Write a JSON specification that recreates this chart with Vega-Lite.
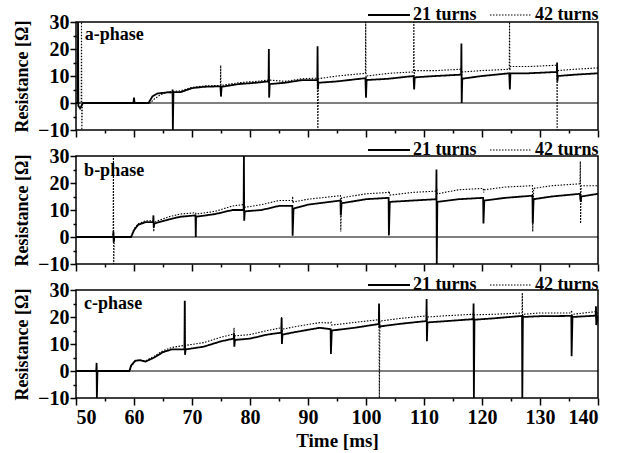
{
"$schema":"https://vega.github.io/schema/vega-lite/v6.json",
"padding":{"left":12,"top":5,"right":5,"bottom":5},
"background":"white",
"datasets":{"curves":[
{"p":"a","s":"21 turns","t":50,"r":0},{"p":"a","s":"21 turns","t":50.3,"r":0},{"p":"a","s":"21 turns","t":50.35,"r":30},{"p":"a","s":"21 turns","t":50.4,"r":-1},{"p":"a","s":"21 turns","t":50.7,"r":-2},{"p":"a","s":"21 turns","t":51.2,"r":0},{"p":"a","s":"21 turns","t":59.9,"r":0},{"p":"a","s":"21 turns","t":60,"r":2},{"p":"a","s":"21 turns","t":60.1,"r":0},{"p":"a","s":"21 turns","t":62.5,"r":0},{"p":"a","s":"21 turns","t":63.2,"r":2.5},{"p":"a","s":"21 turns","t":64,"r":3.5},{"p":"a","s":"21 turns","t":66,"r":4},{"p":"a","s":"21 turns","t":66.6,"r":3.8},{"p":"a","s":"21 turns","t":66.65,"r":5},{"p":"a","s":"21 turns","t":66.7,"r":-10},{"p":"a","s":"21 turns","t":66.8,"r":4},{"p":"a","s":"21 turns","t":68,"r":4},{"p":"a","s":"21 turns","t":70,"r":5.5},{"p":"a","s":"21 turns","t":72,"r":6},{"p":"a","s":"21 turns","t":74.9,"r":6.2},{"p":"a","s":"21 turns","t":75,"r":2.6},{"p":"a","s":"21 turns","t":75.1,"r":6},{"p":"a","s":"21 turns","t":78,"r":7},{"p":"a","s":"21 turns","t":81,"r":7.5},{"p":"a","s":"21 turns","t":83.2,"r":8},{"p":"a","s":"21 turns","t":83.25,"r":20},{"p":"a","s":"21 turns","t":83.3,"r":2},{"p":"a","s":"21 turns","t":83.4,"r":7},{"p":"a","s":"21 turns","t":86,"r":7.5},{"p":"a","s":"21 turns","t":89,"r":8.5},{"p":"a","s":"21 turns","t":91.6,"r":8.5},{"p":"a","s":"21 turns","t":91.65,"r":21},{"p":"a","s":"21 turns","t":91.7,"r":5},{"p":"a","s":"21 turns","t":91.8,"r":7.5},{"p":"a","s":"21 turns","t":95,"r":8},{"p":"a","s":"21 turns","t":99.9,"r":9.2},{"p":"a","s":"21 turns","t":100,"r":2},{"p":"a","s":"21 turns","t":100.1,"r":8.5},{"p":"a","s":"21 turns","t":104,"r":9},{"p":"a","s":"21 turns","t":108.2,"r":10},{"p":"a","s":"21 turns","t":108.3,"r":5},{"p":"a","s":"21 turns","t":108.4,"r":9.5},{"p":"a","s":"21 turns","t":112,"r":10},{"p":"a","s":"21 turns","t":116.4,"r":10.5},{"p":"a","s":"21 turns","t":116.45,"r":22},{"p":"a","s":"21 turns","t":116.5,"r":0},{"p":"a","s":"21 turns","t":116.6,"r":9},{"p":"a","s":"21 turns","t":120,"r":10},{"p":"a","s":"21 turns","t":124.7,"r":11},{"p":"a","s":"21 turns","t":124.8,"r":5},{"p":"a","s":"21 turns","t":124.9,"r":11},{"p":"a","s":"21 turns","t":128,"r":11},{"p":"a","s":"21 turns","t":132.9,"r":11.5},{"p":"a","s":"21 turns","t":132.95,"r":15},{"p":"a","s":"21 turns","t":133,"r":8},{"p":"a","s":"21 turns","t":133.1,"r":10},{"p":"a","s":"21 turns","t":136,"r":10.5},{"p":"a","s":"21 turns","t":140,"r":11},
{"p":"a","s":"42 turns","t":50,"r":0},{"p":"a","s":"42 turns","t":50.9,"r":0},{"p":"a","s":"42 turns","t":50.95,"r":30},{"p":"a","s":"42 turns","t":51,"r":-10},{"p":"a","s":"42 turns","t":51.1,"r":0},{"p":"a","s":"42 turns","t":62.8,"r":0},{"p":"a","s":"42 turns","t":63.5,"r":1.5},{"p":"a","s":"42 turns","t":64.5,"r":3},{"p":"a","s":"42 turns","t":66,"r":4.2},{"p":"a","s":"42 turns","t":68,"r":4.5},{"p":"a","s":"42 turns","t":70,"r":5.8},{"p":"a","s":"42 turns","t":72,"r":6.3},{"p":"a","s":"42 turns","t":74.9,"r":6.5},{"p":"a","s":"42 turns","t":74.95,"r":14},{"p":"a","s":"42 turns","t":75,"r":2},{"p":"a","s":"42 turns","t":75.1,"r":6.5},{"p":"a","s":"42 turns","t":78,"r":7.5},{"p":"a","s":"42 turns","t":81,"r":8},{"p":"a","s":"42 turns","t":83.3,"r":8.5},{"p":"a","s":"42 turns","t":86,"r":8},{"p":"a","s":"42 turns","t":89,"r":9},{"p":"a","s":"42 turns","t":91.6,"r":9.2},{"p":"a","s":"42 turns","t":91.7,"r":-10},{"p":"a","s":"42 turns","t":91.8,"r":9},{"p":"a","s":"42 turns","t":95,"r":10},{"p":"a","s":"42 turns","t":99.9,"r":11},{"p":"a","s":"42 turns","t":99.95,"r":30},{"p":"a","s":"42 turns","t":100,"r":9},{"p":"a","s":"42 turns","t":100.1,"r":10},{"p":"a","s":"42 turns","t":104,"r":11},{"p":"a","s":"42 turns","t":108.2,"r":11.5},{"p":"a","s":"42 turns","t":108.25,"r":30},{"p":"a","s":"42 turns","t":108.3,"r":10},{"p":"a","s":"42 turns","t":108.4,"r":12},{"p":"a","s":"42 turns","t":112,"r":12},{"p":"a","s":"42 turns","t":116.4,"r":12.5},{"p":"a","s":"42 turns","t":116.5,"r":10},{"p":"a","s":"42 turns","t":116.6,"r":11.5},{"p":"a","s":"42 turns","t":120,"r":12},{"p":"a","s":"42 turns","t":124.7,"r":12.5},{"p":"a","s":"42 turns","t":124.75,"r":30},{"p":"a","s":"42 turns","t":124.8,"r":12},{"p":"a","s":"42 turns","t":124.9,"r":13.5},{"p":"a","s":"42 turns","t":128,"r":13.5},{"p":"a","s":"42 turns","t":132.9,"r":14},{"p":"a","s":"42 turns","t":132.95,"r":-10},{"p":"a","s":"42 turns","t":133,"r":11.5},{"p":"a","s":"42 turns","t":133.1,"r":12},{"p":"a","s":"42 turns","t":136,"r":12.5},{"p":"a","s":"42 turns","t":140,"r":13},
{"p":"b","s":"21 turns","t":50,"r":0},{"p":"b","s":"21 turns","t":56.4,"r":0},{"p":"b","s":"21 turns","t":56.45,"r":2},{"p":"b","s":"21 turns","t":56.5,"r":-2},{"p":"b","s":"21 turns","t":56.6,"r":0},{"p":"b","s":"21 turns","t":59.5,"r":0},{"p":"b","s":"21 turns","t":60,"r":2.5},{"p":"b","s":"21 turns","t":60.7,"r":4.5},{"p":"b","s":"21 turns","t":62,"r":5.5},{"p":"b","s":"21 turns","t":63.3,"r":5.5},{"p":"b","s":"21 turns","t":63.35,"r":8},{"p":"b","s":"21 turns","t":63.4,"r":3.5},{"p":"b","s":"21 turns","t":63.5,"r":5},{"p":"b","s":"21 turns","t":66,"r":6.5},{"p":"b","s":"21 turns","t":68,"r":7.5},{"p":"b","s":"21 turns","t":70.6,"r":8},{"p":"b","s":"21 turns","t":70.65,"r":0},{"p":"b","s":"21 turns","t":70.7,"r":7.5},{"p":"b","s":"21 turns","t":74,"r":8.5},{"p":"b","s":"21 turns","t":77,"r":10},{"p":"b","s":"21 turns","t":78.9,"r":10},{"p":"b","s":"21 turns","t":78.95,"r":30},{"p":"b","s":"21 turns","t":79,"r":6},{"p":"b","s":"21 turns","t":79.1,"r":9.5},{"p":"b","s":"21 turns","t":82,"r":10},{"p":"b","s":"21 turns","t":85,"r":11.5},{"p":"b","s":"21 turns","t":87.3,"r":11.5},{"p":"b","s":"21 turns","t":87.35,"r":0.5},{"p":"b","s":"21 turns","t":87.5,"r":10.5},{"p":"b","s":"21 turns","t":90,"r":12},{"p":"b","s":"21 turns","t":95.6,"r":13.5},{"p":"b","s":"21 turns","t":95.65,"r":8},{"p":"b","s":"21 turns","t":95.8,"r":12.5},{"p":"b","s":"21 turns","t":100,"r":14},{"p":"b","s":"21 turns","t":103.9,"r":14.5},{"p":"b","s":"21 turns","t":103.95,"r":0.6},{"p":"b","s":"21 turns","t":104.1,"r":13},{"p":"b","s":"21 turns","t":108,"r":13.5},{"p":"b","s":"21 turns","t":112.1,"r":14},{"p":"b","s":"21 turns","t":112.15,"r":25},{"p":"b","s":"21 turns","t":112.2,"r":-10},{"p":"b","s":"21 turns","t":112.3,"r":13},{"p":"b","s":"21 turns","t":116,"r":14},{"p":"b","s":"21 turns","t":120.2,"r":14.5},{"p":"b","s":"21 turns","t":120.25,"r":5},{"p":"b","s":"21 turns","t":120.4,"r":13.5},{"p":"b","s":"21 turns","t":124,"r":14.5},{"p":"b","s":"21 turns","t":128.7,"r":15.3},{"p":"b","s":"21 turns","t":128.75,"r":5},{"p":"b","s":"21 turns","t":128.9,"r":14},{"p":"b","s":"21 turns","t":132,"r":15},{"p":"b","s":"21 turns","t":136.9,"r":16},{"p":"b","s":"21 turns","t":136.95,"r":14},{"p":"b","s":"21 turns","t":137.05,"r":13},{"p":"b","s":"21 turns","t":137.1,"r":15},{"p":"b","s":"21 turns","t":140,"r":16},
{"p":"b","s":"42 turns","t":50,"r":0},{"p":"b","s":"42 turns","t":56.4,"r":0},{"p":"b","s":"42 turns","t":56.45,"r":30},{"p":"b","s":"42 turns","t":56.5,"r":-10},{"p":"b","s":"42 turns","t":56.6,"r":0},{"p":"b","s":"42 turns","t":59.5,"r":0},{"p":"b","s":"42 turns","t":60,"r":3},{"p":"b","s":"42 turns","t":60.8,"r":5},{"p":"b","s":"42 turns","t":62,"r":6},{"p":"b","s":"42 turns","t":63.3,"r":6},{"p":"b","s":"42 turns","t":63.35,"r":7},{"p":"b","s":"42 turns","t":63.4,"r":2},{"p":"b","s":"42 turns","t":63.5,"r":5.5},{"p":"b","s":"42 turns","t":66,"r":7.5},{"p":"b","s":"42 turns","t":68,"r":8.5},{"p":"b","s":"42 turns","t":70.6,"r":9},{"p":"b","s":"42 turns","t":70.7,"r":8.5},{"p":"b","s":"42 turns","t":74,"r":9.5},{"p":"b","s":"42 turns","t":77,"r":11.5},{"p":"b","s":"42 turns","t":78.9,"r":12},{"p":"b","s":"42 turns","t":79,"r":9},{"p":"b","s":"42 turns","t":79.1,"r":11},{"p":"b","s":"42 turns","t":82,"r":12},{"p":"b","s":"42 turns","t":85,"r":13.5},{"p":"b","s":"42 turns","t":87.3,"r":13.5},{"p":"b","s":"42 turns","t":87.35,"r":15},{"p":"b","s":"42 turns","t":87.4,"r":12.5},{"p":"b","s":"42 turns","t":87.5,"r":13},{"p":"b","s":"42 turns","t":90,"r":14},{"p":"b","s":"42 turns","t":95.6,"r":15.3},{"p":"b","s":"42 turns","t":95.65,"r":2},{"p":"b","s":"42 turns","t":95.8,"r":14.5},{"p":"b","s":"42 turns","t":100,"r":16},{"p":"b","s":"42 turns","t":103.9,"r":16.5},{"p":"b","s":"42 turns","t":104,"r":17},{"p":"b","s":"42 turns","t":104.1,"r":15.5},{"p":"b","s":"42 turns","t":108,"r":16.5},{"p":"b","s":"42 turns","t":112.1,"r":17},{"p":"b","s":"42 turns","t":112.2,"r":17.5},{"p":"b","s":"42 turns","t":112.3,"r":16},{"p":"b","s":"42 turns","t":116,"r":17.5},{"p":"b","s":"42 turns","t":120.2,"r":18},{"p":"b","s":"42 turns","t":120.3,"r":16.5},{"p":"b","s":"42 turns","t":120.4,"r":17.5},{"p":"b","s":"42 turns","t":124,"r":18.5},{"p":"b","s":"42 turns","t":128.7,"r":19},{"p":"b","s":"42 turns","t":128.75,"r":2},{"p":"b","s":"42 turns","t":128.9,"r":18},{"p":"b","s":"42 turns","t":132,"r":19},{"p":"b","s":"42 turns","t":136.9,"r":19.7},{"p":"b","s":"42 turns","t":136.95,"r":28},{"p":"b","s":"42 turns","t":137,"r":5},{"p":"b","s":"42 turns","t":137.1,"r":19},{"p":"b","s":"42 turns","t":140,"r":19},
{"p":"c","s":"21 turns","t":50,"r":0},{"p":"c","s":"21 turns","t":53.5,"r":0},{"p":"c","s":"21 turns","t":53.55,"r":3},{"p":"c","s":"21 turns","t":53.6,"r":-10},{"p":"c","s":"21 turns","t":53.7,"r":0},{"p":"c","s":"21 turns","t":59.2,"r":0},{"p":"c","s":"21 turns","t":59.5,"r":2},{"p":"c","s":"21 turns","t":60.2,"r":3.8},{"p":"c","s":"21 turns","t":61,"r":4},{"p":"c","s":"21 turns","t":62,"r":3.5},{"p":"c","s":"21 turns","t":63.5,"r":5},{"p":"c","s":"21 turns","t":65,"r":7},{"p":"c","s":"21 turns","t":66.5,"r":8},{"p":"c","s":"21 turns","t":68.7,"r":8},{"p":"c","s":"21 turns","t":68.75,"r":26},{"p":"c","s":"21 turns","t":68.8,"r":6},{"p":"c","s":"21 turns","t":68.9,"r":8},{"p":"c","s":"21 turns","t":72,"r":9},{"p":"c","s":"21 turns","t":75,"r":11},{"p":"c","s":"21 turns","t":77.2,"r":12},{"p":"c","s":"21 turns","t":77.25,"r":14},{"p":"c","s":"21 turns","t":77.3,"r":9},{"p":"c","s":"21 turns","t":77.4,"r":11.5},{"p":"c","s":"21 turns","t":80,"r":12},{"p":"c","s":"21 turns","t":83,"r":13.5},{"p":"c","s":"21 turns","t":85.4,"r":14.2},{"p":"c","s":"21 turns","t":85.45,"r":19.7},{"p":"c","s":"21 turns","t":85.5,"r":10},{"p":"c","s":"21 turns","t":85.6,"r":13.5},{"p":"c","s":"21 turns","t":88,"r":14.5},{"p":"c","s":"21 turns","t":92,"r":16},{"p":"c","s":"21 turns","t":93.9,"r":15.5},{"p":"c","s":"21 turns","t":93.95,"r":6.3},{"p":"c","s":"21 turns","t":94.1,"r":15},{"p":"c","s":"21 turns","t":98,"r":16},{"p":"c","s":"21 turns","t":102.2,"r":17.4},{"p":"c","s":"21 turns","t":102.25,"r":25},{"p":"c","s":"21 turns","t":102.3,"r":16},{"p":"c","s":"21 turns","t":102.4,"r":16.5},{"p":"c","s":"21 turns","t":106,"r":17.5},{"p":"c","s":"21 turns","t":110.4,"r":18.5},{"p":"c","s":"21 turns","t":110.45,"r":26.7},{"p":"c","s":"21 turns","t":110.5,"r":11},{"p":"c","s":"21 turns","t":110.6,"r":18},{"p":"c","s":"21 turns","t":114,"r":18.5},{"p":"c","s":"21 turns","t":118.5,"r":19.2},{"p":"c","s":"21 turns","t":118.55,"r":25},{"p":"c","s":"21 turns","t":118.6,"r":-10},{"p":"c","s":"21 turns","t":118.7,"r":19},{"p":"c","s":"21 turns","t":122,"r":19.5},{"p":"c","s":"21 turns","t":126.9,"r":20.4},{"p":"c","s":"21 turns","t":126.95,"r":-10},{"p":"c","s":"21 turns","t":127.05,"r":20},{"p":"c","s":"21 turns","t":130,"r":20.3},{"p":"c","s":"21 turns","t":135.4,"r":20.4},{"p":"c","s":"21 turns","t":135.45,"r":5.5},{"p":"c","s":"21 turns","t":135.6,"r":20},{"p":"c","s":"21 turns","t":139.6,"r":20.5},{"p":"c","s":"21 turns","t":139.65,"r":24},{"p":"c","s":"21 turns","t":139.7,"r":17},{"p":"c","s":"21 turns","t":140,"r":20.5},
{"p":"c","s":"42 turns","t":50,"r":0},{"p":"c","s":"42 turns","t":53.5,"r":0},{"p":"c","s":"42 turns","t":53.55,"r":2},{"p":"c","s":"42 turns","t":53.6,"r":-3},{"p":"c","s":"42 turns","t":53.7,"r":0},{"p":"c","s":"42 turns","t":59.3,"r":0},{"p":"c","s":"42 turns","t":59.6,"r":2},{"p":"c","s":"42 turns","t":60.3,"r":3.8},{"p":"c","s":"42 turns","t":61,"r":4},{"p":"c","s":"42 turns","t":62,"r":3.8},{"p":"c","s":"42 turns","t":63.5,"r":5.5},{"p":"c","s":"42 turns","t":65,"r":7.5},{"p":"c","s":"42 turns","t":66.5,"r":8.7},{"p":"c","s":"42 turns","t":68.7,"r":9.5},{"p":"c","s":"42 turns","t":68.75,"r":26},{"p":"c","s":"42 turns","t":68.8,"r":8},{"p":"c","s":"42 turns","t":68.9,"r":9.5},{"p":"c","s":"42 turns","t":72,"r":10.5},{"p":"c","s":"42 turns","t":75,"r":12.5},{"p":"c","s":"42 turns","t":77.2,"r":13.7},{"p":"c","s":"42 turns","t":77.25,"r":16},{"p":"c","s":"42 turns","t":77.3,"r":10},{"p":"c","s":"42 turns","t":77.4,"r":13},{"p":"c","s":"42 turns","t":80,"r":13.5},{"p":"c","s":"42 turns","t":83,"r":15},{"p":"c","s":"42 turns","t":85.4,"r":16},{"p":"c","s":"42 turns","t":85.45,"r":20},{"p":"c","s":"42 turns","t":85.5,"r":12},{"p":"c","s":"42 turns","t":85.6,"r":15.5},{"p":"c","s":"42 turns","t":88,"r":16.5},{"p":"c","s":"42 turns","t":92,"r":17.9},{"p":"c","s":"42 turns","t":93.9,"r":17.8},{"p":"c","s":"42 turns","t":94,"r":18},{"p":"c","s":"42 turns","t":94.1,"r":17},{"p":"c","s":"42 turns","t":98,"r":18},{"p":"c","s":"42 turns","t":102.2,"r":19},{"p":"c","s":"42 turns","t":102.25,"r":20},{"p":"c","s":"42 turns","t":102.3,"r":-10},{"p":"c","s":"42 turns","t":102.4,"r":18.5},{"p":"c","s":"42 turns","t":106,"r":19.5},{"p":"c","s":"42 turns","t":110.4,"r":20.4},{"p":"c","s":"42 turns","t":110.45,"r":22},{"p":"c","s":"42 turns","t":110.5,"r":18},{"p":"c","s":"42 turns","t":110.6,"r":20},{"p":"c","s":"42 turns","t":114,"r":20.5},{"p":"c","s":"42 turns","t":118.5,"r":21},{"p":"c","s":"42 turns","t":118.55,"r":22},{"p":"c","s":"42 turns","t":118.6,"r":18},{"p":"c","s":"42 turns","t":118.7,"r":20.8},{"p":"c","s":"42 turns","t":122,"r":21},{"p":"c","s":"42 turns","t":126.9,"r":21.5},{"p":"c","s":"42 turns","t":126.95,"r":29},{"p":"c","s":"42 turns","t":127,"r":19},{"p":"c","s":"42 turns","t":127.1,"r":21},{"p":"c","s":"42 turns","t":130,"r":21.5},{"p":"c","s":"42 turns","t":135.4,"r":21.5},{"p":"c","s":"42 turns","t":135.45,"r":22.5},{"p":"c","s":"42 turns","t":135.5,"r":19},{"p":"c","s":"42 turns","t":135.6,"r":21},{"p":"c","s":"42 turns","t":139.6,"r":22},{"p":"c","s":"42 turns","t":139.65,"r":23},{"p":"c","s":"42 turns","t":139.7,"r":19},{"p":"c","s":"42 turns","t":140,"r":22}
]},
"vconcat":[
{"width":522,"height":108,
 "layer":[
  {"data":{"values":[{}]},"mark":{"type":"rule","color":"black","strokeWidth":1},"encoding":{"y":{"datum":0,"type":"quantitative","axis":null}}},
  {"data":{"name":"curves"},"transform":[{"filter":"datum.p==='a'"}],
   "mark":{"type":"line","clip":true,"color":"black"},
   "encoding":{
    "x":{"field":"t","type":"quantitative","scale":{"domain":[50,140],"nice":false,"zero":false},"axis":{"orient":"bottom","values":[50,60,70,80,90,100,110,120,130,140],"labels":false,"title":null,"tickSize":7}},
    "y":{"field":"r","type":"quantitative","scale":{"domain":[-10,30],"nice":false,"zero":false},"axis":{"orient":"left","values":[-10,0,10,20,30],"title":"Resistance [Ω]","tickSize":6}},
    "strokeDash":{"field":"s","type":"nominal","scale":{"domain":["21 turns","42 turns"],"range":[[1,0],[1.5,1.5]]},"legend":{"orient":"none","legendX":304,"legendY":-16,"direction":"horizontal","title":null}},
    "strokeWidth":{"field":"s","type":"ordinal","scale":{"domain":["21 turns","42 turns"],"range":[1.8,1.1]},"legend":null}
   }},
  {"data":{"values":[{}]},"mark":{"type":"text","align":"left","baseline":"middle","font":"Liberation Serif","fontWeight":"bold","fontSize":18,"color":"black"},
   "encoding":{
    "x":{"datum":51.5,"type":"quantitative","axis":{"orient":"bottom","values":[55,65,75,85,95,105,115,125,135],"labels":false,"title":null,"tickSize":3}},
    "y":{"datum":25.3,"type":"quantitative","axis":{"orient":"left","values":[-5,5,15,25],"labels":false,"title":null,"tickSize":3}},
    "text":{"value":"a-phase"}}}
 ],
 "resolve":{"axis":{"x":"independent","y":"independent"}}
},
{"width":522,"height":108,
 "layer":[
  {"data":{"values":[{}]},"mark":{"type":"rule","color":"black","strokeWidth":1},"encoding":{"y":{"datum":0,"type":"quantitative","axis":null}}},
  {"data":{"name":"curves"},"transform":[{"filter":"datum.p==='b'"}],
   "mark":{"type":"line","clip":true,"color":"black"},
   "encoding":{
    "x":{"field":"t","type":"quantitative","scale":{"domain":[50,140],"nice":false,"zero":false},"axis":{"orient":"bottom","values":[50,60,70,80,90,100,110,120,130,140],"labels":false,"title":null,"tickSize":7}},
    "y":{"field":"r","type":"quantitative","scale":{"domain":[-10,30],"nice":false,"zero":false},"axis":{"orient":"left","values":[-10,0,10,20,30],"title":"Resistance [Ω]","tickSize":6}},
    "strokeDash":{"field":"s","type":"nominal","scale":{"domain":["21 turns","42 turns"],"range":[[1,0],[1.5,1.5]]},"legend":{"orient":"none","legendX":304,"legendY":-15,"direction":"horizontal","title":null}},
    "strokeWidth":{"field":"s","type":"ordinal","scale":{"domain":["21 turns","42 turns"],"range":[1.8,1.1]},"legend":null}
   }},
  {"data":{"values":[{}]},"mark":{"type":"text","align":"left","baseline":"middle","font":"Liberation Serif","fontWeight":"bold","fontSize":18,"color":"black"},
   "encoding":{
    "x":{"datum":51.4,"type":"quantitative","axis":{"orient":"bottom","values":[55,65,75,85,95,105,115,125,135],"labels":false,"title":null,"tickSize":3}},
    "y":{"datum":24.4,"type":"quantitative","axis":{"orient":"left","values":[-5,5,15,25],"labels":false,"title":null,"tickSize":3}},
    "text":{"value":"b-phase"}}}
 ],
 "resolve":{"axis":{"x":"independent","y":"independent"}}
},
{"width":522,"height":108,
 "layer":[
  {"data":{"values":[{}]},"mark":{"type":"rule","color":"black","strokeWidth":1},"encoding":{"y":{"datum":0,"type":"quantitative","axis":null}}},
  {"data":{"name":"curves"},"transform":[{"filter":"datum.p==='c'"}],
   "mark":{"type":"line","clip":true,"color":"black"},
   "encoding":{
    "x":{"field":"t","type":"quantitative","scale":{"domain":[50,140],"nice":false,"zero":false},"axis":{"orient":"bottom","values":[50,60,70,80,90,100,110,120,130,140],"title":"Time  [ms]","tickSize":7,"titleFontSize":19,"titlePadding":4,"labelPadding":2}},
    "y":{"field":"r","type":"quantitative","scale":{"domain":[-10,30],"nice":false,"zero":false},"axis":{"orient":"left","values":[-10,0,10,20,30],"title":"Resistance [Ω]","tickSize":6}},
    "strokeDash":{"field":"s","type":"nominal","scale":{"domain":["21 turns","42 turns"],"range":[[1,0],[1.5,1.5]]},"legend":{"orient":"none","legendX":304,"legendY":-14,"direction":"horizontal","title":null}},
    "strokeWidth":{"field":"s","type":"ordinal","scale":{"domain":["21 turns","42 turns"],"range":[1.8,1.1]},"legend":null}
   }},
  {"data":{"values":[{}]},"mark":{"type":"text","align":"left","baseline":"middle","font":"Liberation Serif","fontWeight":"bold","fontSize":18,"color":"black"},
   "encoding":{
    "x":{"datum":51.4,"type":"quantitative","axis":{"orient":"bottom","values":[55,65,75,85,95,105,115,125,135],"labels":false,"title":null,"tickSize":3}},
    "y":{"datum":24.7,"type":"quantitative","axis":{"orient":"left","values":[-5,5,15,25],"labels":false,"title":null,"tickSize":3}},
    "text":{"value":"c-phase"}}}
 ],
 "resolve":{"axis":{"x":"independent","y":"independent"}}
}
],
"spacing":26,
"bounds":"flush",
"resolve":{"scale":{"strokeDash":"independent","strokeWidth":"independent"},"legend":{"strokeDash":"independent"}},
"config":{
 "font":"Liberation Serif",
 "view":{"stroke":"black","strokeWidth":1.5},
 "axis":{"labelFont":"Liberation Serif","labelFontWeight":"bold","labelFontSize":20,"labelColor":"black","titleFont":"Liberation Serif","titleFontWeight":"bold","titleFontSize":18,"titleColor":"black","tickColor":"black","tickWidth":1.5,"domain":false,"grid":false,"labelPadding":1,"titlePadding":6},
 "legend":{"symbolType":"M-3,0H3","symbolSize":196,"symbolStrokeColor":"black","symbolStrokeWidth":1.6,"labelFont":"Liberation Serif","labelFontWeight":"bold","labelFontSize":18,"labelColor":"black","labelOffset":15,"columnPadding":10,"padding":0}
}
}
